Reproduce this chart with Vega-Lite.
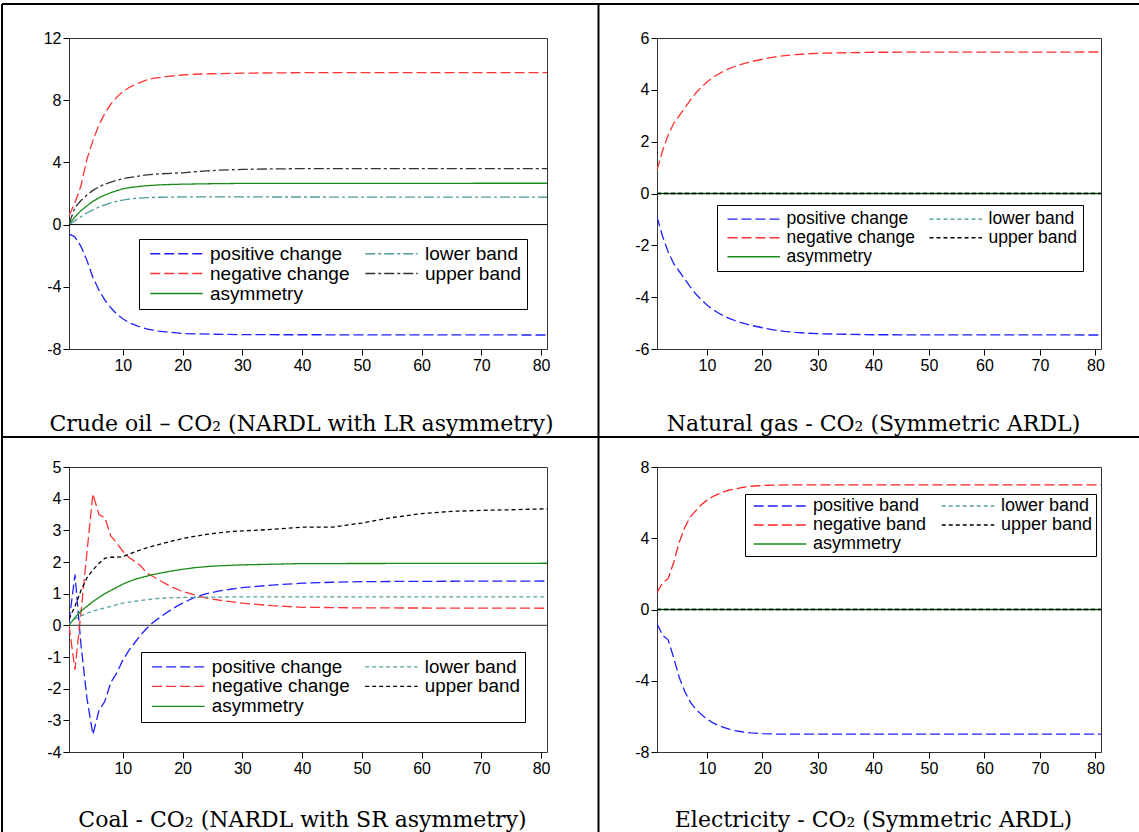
{
  "$schema": "https://vega.github.io/schema/vega-lite/v6.json",
  "background": "white",
  "padding": {"left": 0, "top": 2, "right": 0, "bottom": 0},
  "datasets": {
    "A": [
      {"s": "positive change", "h": 1, "v": -0.6}, {"s": "positive change", "h": 2, "v": -0.8}, {"s": "positive change", "h": 3, "v": -1.4}, {"s": "positive change", "h": 4, "v": -2.3}, {"s": "positive change", "h": 5, "v": -3.4}, {"s": "positive change", "h": 6, "v": -4.2}, {"s": "positive change", "h": 7, "v": -4.85}, {"s": "positive change", "h": 8, "v": -5.35}, {"s": "positive change", "h": 9, "v": -5.75}, {"s": "positive change", "h": 10, "v": -6.05}, {"s": "positive change", "h": 11, "v": -6.3}, {"s": "positive change", "h": 12, "v": -6.45}, {"s": "positive change", "h": 13, "v": -6.6}, {"s": "positive change", "h": 14, "v": -6.7}, {"s": "positive change", "h": 15, "v": -6.78}, {"s": "positive change", "h": 16, "v": -6.85}, {"s": "positive change", "h": 18, "v": -6.93}, {"s": "positive change", "h": 20, "v": -7.0}, {"s": "positive change", "h": 25, "v": -7.05}, {"s": "positive change", "h": 30, "v": -7.08}, {"s": "positive change", "h": 81, "v": -7.1},
      {"s": "negative change", "h": 1, "v": 0.58}, {"s": "negative change", "h": 2, "v": 1.4}, {"s": "negative change", "h": 3, "v": 2.5}, {"s": "negative change", "h": 4, "v": 4.2}, {"s": "negative change", "h": 5, "v": 5.4}, {"s": "negative change", "h": 6, "v": 6.4}, {"s": "negative change", "h": 7, "v": 7.15}, {"s": "negative change", "h": 8, "v": 7.75}, {"s": "negative change", "h": 9, "v": 8.2}, {"s": "negative change", "h": 10, "v": 8.55}, {"s": "negative change", "h": 11, "v": 8.8}, {"s": "negative change", "h": 12, "v": 9.0}, {"s": "negative change", "h": 13, "v": 9.15}, {"s": "negative change", "h": 14, "v": 9.3}, {"s": "negative change", "h": 15, "v": 9.4}, {"s": "negative change", "h": 16, "v": 9.45}, {"s": "negative change", "h": 18, "v": 9.55}, {"s": "negative change", "h": 20, "v": 9.62}, {"s": "negative change", "h": 22, "v": 9.67}, {"s": "negative change", "h": 25, "v": 9.7}, {"s": "negative change", "h": 30, "v": 9.74}, {"s": "negative change", "h": 40, "v": 9.77}, {"s": "negative change", "h": 81, "v": 9.77},
      {"s": "asymmetry", "h": 1, "v": 0}, {"s": "asymmetry", "h": 2, "v": 0.5}, {"s": "asymmetry", "h": 3, "v": 0.9}, {"s": "asymmetry", "h": 4, "v": 1.2}, {"s": "asymmetry", "h": 5, "v": 1.5}, {"s": "asymmetry", "h": 6, "v": 1.72}, {"s": "asymmetry", "h": 7, "v": 1.9}, {"s": "asymmetry", "h": 8, "v": 2.05}, {"s": "asymmetry", "h": 9, "v": 2.18}, {"s": "asymmetry", "h": 10, "v": 2.3}, {"s": "asymmetry", "h": 11, "v": 2.37}, {"s": "asymmetry", "h": 12, "v": 2.42}, {"s": "asymmetry", "h": 14, "v": 2.5}, {"s": "asymmetry", "h": 16, "v": 2.55}, {"s": "asymmetry", "h": 18, "v": 2.58}, {"s": "asymmetry", "h": 20, "v": 2.6}, {"s": "asymmetry", "h": 25, "v": 2.63}, {"s": "asymmetry", "h": 30, "v": 2.65}, {"s": "asymmetry", "h": 81, "v": 2.66},
      {"s": "upper band", "h": 1, "v": 0.05}, {"s": "upper band", "h": 2, "v": 1.1}, {"s": "upper band", "h": 3, "v": 1.55}, {"s": "upper band", "h": 4, "v": 1.9}, {"s": "upper band", "h": 5, "v": 2.2}, {"s": "upper band", "h": 6, "v": 2.42}, {"s": "upper band", "h": 7, "v": 2.6}, {"s": "upper band", "h": 8, "v": 2.73}, {"s": "upper band", "h": 9, "v": 2.85}, {"s": "upper band", "h": 10, "v": 2.95}, {"s": "upper band", "h": 11, "v": 3.02}, {"s": "upper band", "h": 12, "v": 3.08}, {"s": "upper band", "h": 14, "v": 3.2}, {"s": "upper band", "h": 16, "v": 3.26}, {"s": "upper band", "h": 18, "v": 3.3}, {"s": "upper band", "h": 20, "v": 3.33}, {"s": "upper band", "h": 22, "v": 3.4}, {"s": "upper band", "h": 24, "v": 3.45}, {"s": "upper band", "h": 26, "v": 3.5}, {"s": "upper band", "h": 30, "v": 3.55}, {"s": "upper band", "h": 35, "v": 3.58}, {"s": "upper band", "h": 40, "v": 3.6}, {"s": "upper band", "h": 81, "v": 3.6},
      {"s": "lower band", "h": 1, "v": 0}, {"s": "lower band", "h": 2, "v": 0.25}, {"s": "lower band", "h": 3, "v": 0.5}, {"s": "lower band", "h": 4, "v": 0.75}, {"s": "lower band", "h": 5, "v": 0.95}, {"s": "lower band", "h": 6, "v": 1.12}, {"s": "lower band", "h": 7, "v": 1.27}, {"s": "lower band", "h": 8, "v": 1.4}, {"s": "lower band", "h": 9, "v": 1.5}, {"s": "lower band", "h": 10, "v": 1.58}, {"s": "lower band", "h": 11, "v": 1.64}, {"s": "lower band", "h": 12, "v": 1.68}, {"s": "lower band", "h": 14, "v": 1.73}, {"s": "lower band", "h": 16, "v": 1.76}, {"s": "lower band", "h": 20, "v": 1.78}, {"s": "lower band", "h": 25, "v": 1.78}, {"s": "lower band", "h": 81, "v": 1.76}
    ],
    "B": [
      {"s": "negative change", "h": 1, "v": 0.9}, {"s": "negative change", "h": 2, "v": 1.65}, {"s": "negative change", "h": 3, "v": 2.25}, {"s": "negative change", "h": 4, "v": 2.7}, {"s": "negative change", "h": 5, "v": 3.0}, {"s": "negative change", "h": 6, "v": 3.3}, {"s": "negative change", "h": 7, "v": 3.6}, {"s": "negative change", "h": 8, "v": 3.88}, {"s": "negative change", "h": 9, "v": 4.1}, {"s": "negative change", "h": 10, "v": 4.3}, {"s": "negative change", "h": 11, "v": 4.47}, {"s": "negative change", "h": 12, "v": 4.6}, {"s": "negative change", "h": 13, "v": 4.72}, {"s": "negative change", "h": 14, "v": 4.82}, {"s": "negative change", "h": 15, "v": 4.9}, {"s": "negative change", "h": 16, "v": 4.97}, {"s": "negative change", "h": 17, "v": 5.03}, {"s": "negative change", "h": 18, "v": 5.09}, {"s": "negative change", "h": 20, "v": 5.18}, {"s": "negative change", "h": 22, "v": 5.26}, {"s": "negative change", "h": 24, "v": 5.32}, {"s": "negative change", "h": 26, "v": 5.36}, {"s": "negative change", "h": 28, "v": 5.39}, {"s": "negative change", "h": 30, "v": 5.41}, {"s": "negative change", "h": 35, "v": 5.43}, {"s": "negative change", "h": 40, "v": 5.45}, {"s": "negative change", "h": 81, "v": 5.46},
      {"s": "positive change", "h": 1, "v": -0.9}, {"s": "positive change", "h": 2, "v": -1.65}, {"s": "positive change", "h": 3, "v": -2.25}, {"s": "positive change", "h": 4, "v": -2.7}, {"s": "positive change", "h": 5, "v": -3.0}, {"s": "positive change", "h": 6, "v": -3.3}, {"s": "positive change", "h": 7, "v": -3.6}, {"s": "positive change", "h": 8, "v": -3.88}, {"s": "positive change", "h": 9, "v": -4.1}, {"s": "positive change", "h": 10, "v": -4.3}, {"s": "positive change", "h": 11, "v": -4.47}, {"s": "positive change", "h": 12, "v": -4.6}, {"s": "positive change", "h": 13, "v": -4.72}, {"s": "positive change", "h": 14, "v": -4.82}, {"s": "positive change", "h": 15, "v": -4.9}, {"s": "positive change", "h": 16, "v": -4.97}, {"s": "positive change", "h": 17, "v": -5.03}, {"s": "positive change", "h": 18, "v": -5.09}, {"s": "positive change", "h": 20, "v": -5.18}, {"s": "positive change", "h": 22, "v": -5.26}, {"s": "positive change", "h": 24, "v": -5.32}, {"s": "positive change", "h": 26, "v": -5.36}, {"s": "positive change", "h": 28, "v": -5.39}, {"s": "positive change", "h": 30, "v": -5.41}, {"s": "positive change", "h": 35, "v": -5.43}, {"s": "positive change", "h": 40, "v": -5.45}, {"s": "positive change", "h": 81, "v": -5.46},
      {"s": "asymmetry", "h": 1, "v": 0}, {"s": "asymmetry", "h": 81, "v": 0},
      {"s": "lower band", "h": 1, "v": 0}, {"s": "lower band", "h": 81, "v": 0},
      {"s": "upper band", "h": 1, "v": 0}, {"s": "upper band", "h": 81, "v": 0}
    ],
    "C": [
      {"s": "positive change", "h": 1, "v": 0.1}, {"s": "positive change", "h": 2, "v": 1.6}, {"s": "positive change", "h": 3, "v": -0.6}, {"s": "positive change", "h": 4, "v": -2.3}, {"s": "positive change", "h": 5, "v": -3.45}, {"s": "positive change", "h": 6, "v": -2.7}, {"s": "positive change", "h": 7, "v": -2.4}, {"s": "positive change", "h": 8, "v": -1.8}, {"s": "positive change", "h": 9, "v": -1.5}, {"s": "positive change", "h": 10, "v": -1.1}, {"s": "positive change", "h": 11, "v": -0.8}, {"s": "positive change", "h": 12, "v": -0.55}, {"s": "positive change", "h": 13, "v": -0.3}, {"s": "positive change", "h": 14, "v": -0.1}, {"s": "positive change", "h": 15, "v": 0.08}, {"s": "positive change", "h": 16, "v": 0.22}, {"s": "positive change", "h": 17, "v": 0.36}, {"s": "positive change", "h": 18, "v": 0.48}, {"s": "positive change", "h": 19, "v": 0.6}, {"s": "positive change", "h": 20, "v": 0.7}, {"s": "positive change", "h": 22, "v": 0.88}, {"s": "positive change", "h": 24, "v": 1.0}, {"s": "positive change", "h": 26, "v": 1.08}, {"s": "positive change", "h": 28, "v": 1.14}, {"s": "positive change", "h": 30, "v": 1.19}, {"s": "positive change", "h": 35, "v": 1.27}, {"s": "positive change", "h": 40, "v": 1.33}, {"s": "positive change", "h": 45, "v": 1.36}, {"s": "positive change", "h": 50, "v": 1.38}, {"s": "positive change", "h": 60, "v": 1.39}, {"s": "positive change", "h": 81, "v": 1.4},
      {"s": "negative change", "h": 1, "v": 0}, {"s": "negative change", "h": 2, "v": -1.4}, {"s": "negative change", "h": 3, "v": 0.4}, {"s": "negative change", "h": 4, "v": 2.3}, {"s": "negative change", "h": 5, "v": 4.15}, {"s": "negative change", "h": 6, "v": 3.5}, {"s": "negative change", "h": 7, "v": 3.4}, {"s": "negative change", "h": 8, "v": 2.82}, {"s": "negative change", "h": 9, "v": 2.6}, {"s": "negative change", "h": 10, "v": 2.34}, {"s": "negative change", "h": 11, "v": 2.15}, {"s": "negative change", "h": 12, "v": 2.02}, {"s": "negative change", "h": 13, "v": 1.88}, {"s": "negative change", "h": 14, "v": 1.65}, {"s": "negative change", "h": 15, "v": 1.55}, {"s": "negative change", "h": 16, "v": 1.44}, {"s": "negative change", "h": 18, "v": 1.23}, {"s": "negative change", "h": 20, "v": 1.07}, {"s": "negative change", "h": 22, "v": 0.96}, {"s": "negative change", "h": 24, "v": 0.86}, {"s": "negative change", "h": 26, "v": 0.8}, {"s": "negative change", "h": 28, "v": 0.75}, {"s": "negative change", "h": 30, "v": 0.7}, {"s": "negative change", "h": 35, "v": 0.62}, {"s": "negative change", "h": 40, "v": 0.57}, {"s": "negative change", "h": 45, "v": 0.56}, {"s": "negative change", "h": 50, "v": 0.55}, {"s": "negative change", "h": 81, "v": 0.54},
      {"s": "asymmetry", "h": 1, "v": 0}, {"s": "asymmetry", "h": 2, "v": 0.25}, {"s": "asymmetry", "h": 3, "v": 0.45}, {"s": "asymmetry", "h": 4, "v": 0.6}, {"s": "asymmetry", "h": 5, "v": 0.75}, {"s": "asymmetry", "h": 6, "v": 0.88}, {"s": "asymmetry", "h": 7, "v": 1.0}, {"s": "asymmetry", "h": 8, "v": 1.1}, {"s": "asymmetry", "h": 9, "v": 1.2}, {"s": "asymmetry", "h": 10, "v": 1.3}, {"s": "asymmetry", "h": 11, "v": 1.38}, {"s": "asymmetry", "h": 12, "v": 1.45}, {"s": "asymmetry", "h": 13, "v": 1.5}, {"s": "asymmetry", "h": 14, "v": 1.55}, {"s": "asymmetry", "h": 15, "v": 1.6}, {"s": "asymmetry", "h": 16, "v": 1.64}, {"s": "asymmetry", "h": 18, "v": 1.71}, {"s": "asymmetry", "h": 20, "v": 1.77}, {"s": "asymmetry", "h": 22, "v": 1.82}, {"s": "asymmetry", "h": 25, "v": 1.87}, {"s": "asymmetry", "h": 30, "v": 1.91}, {"s": "asymmetry", "h": 35, "v": 1.93}, {"s": "asymmetry", "h": 40, "v": 1.95}, {"s": "asymmetry", "h": 81, "v": 1.96},
      {"s": "upper band", "h": 1, "v": 0.2}, {"s": "upper band", "h": 2, "v": 0.6}, {"s": "upper band", "h": 3, "v": 1.1}, {"s": "upper band", "h": 4, "v": 1.5}, {"s": "upper band", "h": 5, "v": 1.75}, {"s": "upper band", "h": 6, "v": 1.95}, {"s": "upper band", "h": 7, "v": 2.12}, {"s": "upper band", "h": 8, "v": 2.15}, {"s": "upper band", "h": 9, "v": 2.15}, {"s": "upper band", "h": 10, "v": 2.17}, {"s": "upper band", "h": 12, "v": 2.32}, {"s": "upper band", "h": 14, "v": 2.45}, {"s": "upper band", "h": 16, "v": 2.55}, {"s": "upper band", "h": 18, "v": 2.65}, {"s": "upper band", "h": 20, "v": 2.74}, {"s": "upper band", "h": 22, "v": 2.81}, {"s": "upper band", "h": 24, "v": 2.87}, {"s": "upper band", "h": 26, "v": 2.92}, {"s": "upper band", "h": 28, "v": 2.96}, {"s": "upper band", "h": 30, "v": 2.98}, {"s": "upper band", "h": 35, "v": 3.03}, {"s": "upper band", "h": 40, "v": 3.1}, {"s": "upper band", "h": 45, "v": 3.1}, {"s": "upper band", "h": 50, "v": 3.23}, {"s": "upper band", "h": 55, "v": 3.4}, {"s": "upper band", "h": 60, "v": 3.53}, {"s": "upper band", "h": 65, "v": 3.6}, {"s": "upper band", "h": 70, "v": 3.63}, {"s": "upper band", "h": 75, "v": 3.65}, {"s": "upper band", "h": 81, "v": 3.68},
      {"s": "lower band", "h": 1, "v": 0.05}, {"s": "lower band", "h": 2, "v": 0.2}, {"s": "lower band", "h": 3, "v": 0.3}, {"s": "lower band", "h": 4, "v": 0.38}, {"s": "lower band", "h": 5, "v": 0.45}, {"s": "lower band", "h": 6, "v": 0.5}, {"s": "lower band", "h": 8, "v": 0.6}, {"s": "lower band", "h": 10, "v": 0.7}, {"s": "lower band", "h": 12, "v": 0.76}, {"s": "lower band", "h": 14, "v": 0.81}, {"s": "lower band", "h": 16, "v": 0.85}, {"s": "lower band", "h": 18, "v": 0.87}, {"s": "lower band", "h": 20, "v": 0.88}, {"s": "lower band", "h": 25, "v": 0.89}, {"s": "lower band", "h": 30, "v": 0.9}, {"s": "lower band", "h": 81, "v": 0.9}
    ],
    "D": [
      {"s": "negative band", "h": 1, "v": 0.94}, {"s": "negative band", "h": 2, "v": 1.5}, {"s": "negative band", "h": 3, "v": 1.73}, {"s": "negative band", "h": 4, "v": 2.64}, {"s": "negative band", "h": 5, "v": 3.77}, {"s": "negative band", "h": 6, "v": 4.6}, {"s": "negative band", "h": 7, "v": 5.2}, {"s": "negative band", "h": 8, "v": 5.55}, {"s": "negative band", "h": 9, "v": 5.88}, {"s": "negative band", "h": 10, "v": 6.14}, {"s": "negative band", "h": 11, "v": 6.33}, {"s": "negative band", "h": 12, "v": 6.48}, {"s": "negative band", "h": 13, "v": 6.6}, {"s": "negative band", "h": 14, "v": 6.7}, {"s": "negative band", "h": 15, "v": 6.77}, {"s": "negative band", "h": 16, "v": 6.83}, {"s": "negative band", "h": 17, "v": 6.88}, {"s": "negative band", "h": 18, "v": 6.92}, {"s": "negative band", "h": 20, "v": 6.96}, {"s": "negative band", "h": 22, "v": 6.98}, {"s": "negative band", "h": 25, "v": 7.0}, {"s": "negative band", "h": 81, "v": 7.0},
      {"s": "positive band", "h": 1, "v": -0.8}, {"s": "positive band", "h": 2, "v": -1.45}, {"s": "positive band", "h": 3, "v": -1.7}, {"s": "positive band", "h": 4, "v": -2.7}, {"s": "positive band", "h": 5, "v": -3.8}, {"s": "positive band", "h": 6, "v": -4.6}, {"s": "positive band", "h": 7, "v": -5.2}, {"s": "positive band", "h": 8, "v": -5.6}, {"s": "positive band", "h": 9, "v": -5.9}, {"s": "positive band", "h": 10, "v": -6.15}, {"s": "positive band", "h": 11, "v": -6.35}, {"s": "positive band", "h": 12, "v": -6.5}, {"s": "positive band", "h": 13, "v": -6.62}, {"s": "positive band", "h": 14, "v": -6.72}, {"s": "positive band", "h": 15, "v": -6.8}, {"s": "positive band", "h": 16, "v": -6.85}, {"s": "positive band", "h": 17, "v": -6.9}, {"s": "positive band", "h": 18, "v": -6.93}, {"s": "positive band", "h": 20, "v": -6.97}, {"s": "positive band", "h": 22, "v": -6.99}, {"s": "positive band", "h": 25, "v": -7.0}, {"s": "positive band", "h": 81, "v": -7.0},
      {"s": "asymmetry", "h": 1, "v": 0}, {"s": "asymmetry", "h": 81, "v": 0},
      {"s": "lower band", "h": 1, "v": 0}, {"s": "lower band", "h": 81, "v": 0},
      {"s": "upper band", "h": 1, "v": 0}, {"s": "upper band", "h": 81, "v": 0}
    ]
  },
  "columns": 2,
  "spacing": {"row": 118, "column": 110},
  "bounds": "flush",
  "concat": [
    {
      "width": 478, "height": 311,
      "layer": [
        {
          "data": {"name": "A"},
          "mark": {"type": "line", "strokeWidth": 1.3, "clip": true},
          "encoding": {
            "x": {"field": "h", "type": "quantitative", "scale": {"domain": [1, 81], "nice": false, "zero": false}, "axis": {"values": [10, 20, 30, 40, 50, 60, 70, 80], "title": "Crude oil – CO₂ (NARDL with LR asymmetry)", "titlePadding": 40, "titleX": 232}},
            "y": {"field": "v", "type": "quantitative", "scale": {"domain": [-8, 12], "nice": false, "zero": false}, "axis": {"values": [-8, -4, 0, 4, 8, 12], "tickCount": 20, "title": null}},
            "color": {"field": "s", "type": "nominal", "scale": {"domain": ["positive change", "negative change", "asymmetry", "lower band", "upper band"], "range": ["#1f1fff", "#ff3333", "#1a8a1a", "#4f9a9a", "#333333"]},
              "legend": {"orient": "none", "legendX": 70, "legendY": 201, "labelFontSize": 19}},
            "strokeDash": {"field": "s", "type": "nominal", "scale": {"domain": ["positive change", "negative change", "asymmetry", "lower band", "upper band"], "range": [[10, 4], [10, 4], [1, 0], [10, 3, 3, 3], [10, 3, 3, 3]]}}
          }
        },
        {"data": {"values": [{}]}, "mark": {"type": "rule", "color": "black", "strokeWidth": 1}, "encoding": {"y": {"datum": 0}}},
        {"data": {"values": [{}]}, "mark": {"type": "rule", "color": "black", "strokeWidth": 2, "clip": false}, "encoding": {"x": {"datum": -10.213}, "x2": {"datum": 180.08}, "y": {"datum": 14.186}}},
        {"data": {"values": [{}]}, "mark": {"type": "rule", "color": "black", "strokeWidth": 2, "clip": false}, "encoding": {"x": {"datum": -10.213}, "x2": {"datum": 180.08}, "y": {"datum": -13.659}}},
        {"data": {"values": [{}]}, "mark": {"type": "rule", "color": "black", "strokeWidth": 2, "clip": false}, "encoding": {"x": {"datum": -10.213}, "y": {"datum": 14.186}, "y2": {"datum": -39.061}}},
        {"data": {"values": [{}]}, "mark": {"type": "rule", "color": "black", "strokeWidth": 2, "clip": false}, "encoding": {"x": {"datum": 89.619}, "y": {"datum": 14.186}, "y2": {"datum": -39.061}}}
      ]
    },
    {
      "width": 444, "height": 311,
      "layer": [
        {
          "data": {"name": "B"},
          "mark": {"type": "line", "strokeWidth": 1.3, "clip": true},
          "encoding": {
            "x": {"field": "h", "type": "quantitative", "scale": {"domain": [1, 81], "nice": false, "zero": false}, "axis": {"values": [10, 20, 30, 40, 50, 60, 70, 80], "title": "Natural gas - CO₂ (Symmetric ARDL)", "titlePadding": 40, "titleX": 216}},
            "y": {"field": "v", "type": "quantitative", "scale": {"domain": [-6, 6], "nice": false, "zero": false}, "axis": {"values": [-6, -4, -2, 0, 2, 4, 6], "tickCount": 20, "title": null}},
            "color": {"field": "s", "type": "nominal", "scale": {"domain": ["positive change", "negative change", "asymmetry", "lower band", "upper band"], "range": ["#1f1fff", "#ff3333", "#1a8a1a", "#3a9090", "#000000"]},
              "legend": {"orient": "none", "legendX": 60, "legendY": 167, "labelFontSize": 17.5}},
            "strokeDash": {"field": "s", "type": "nominal", "scale": {"domain": ["positive change", "negative change", "asymmetry", "lower band", "upper band"], "range": [[10, 4], [10, 4], [1, 0], [4, 3], [4, 3]]}}
          }
        },
        {"data": {"values": [{}]}, "mark": {"type": "rule", "color": "black", "strokeWidth": 1, "opacity": 0.6}, "encoding": {"y": {"datum": 0}}}
      ]
    },
    {
      "width": 478, "height": 285,
      "layer": [
        {
          "data": {"name": "C"},
          "mark": {"type": "line", "strokeWidth": 1.3, "clip": true},
          "encoding": {
            "x": {"field": "h", "type": "quantitative", "scale": {"domain": [1, 81], "nice": false, "zero": false}, "axis": {"values": [10, 20, 30, 40, 50, 60, 70, 80], "title": "Coal - CO₂ (NARDL with SR asymmetry)", "titlePadding": 33, "titleX": 233}},
            "y": {"field": "v", "type": "quantitative", "scale": {"domain": [-4, 5], "nice": false, "zero": false}, "axis": {"values": [-4, -3, -2, -1, 0, 1, 2, 3, 4, 5], "tickCount": 20, "title": null}},
            "color": {"field": "s", "type": "nominal", "scale": {"domain": ["positive change", "negative change", "asymmetry", "lower band", "upper band"], "range": ["#1f1fff", "#ff3333", "#1a8a1a", "#5a9f9f", "#000000"]},
              "legend": {"orient": "none", "legendX": 72, "legendY": 185, "labelFontSize": 18.8}},
            "strokeDash": {"field": "s", "type": "nominal", "scale": {"domain": ["positive change", "negative change", "asymmetry", "lower band", "upper band"], "range": [[10, 4], [10, 4], [1, 0], [4, 3], [4, 3]]}}
          }
        },
        {"data": {"values": [{}]}, "mark": {"type": "rule", "color": "#555555", "strokeWidth": 1.2}, "encoding": {"y": {"datum": 0}}}
      ]
    },
    {
      "width": 444, "height": 285,
      "layer": [
        {
          "data": {"name": "D"},
          "mark": {"type": "line", "strokeWidth": 1.3, "clip": true},
          "encoding": {
            "x": {"field": "h", "type": "quantitative", "scale": {"domain": [1, 81], "nice": false, "zero": false}, "axis": {"values": [10, 20, 30, 40, 50, 60, 70, 80], "title": "Electricity - CO₂ (Symmetric ARDL)", "titlePadding": 33, "titleX": 216}},
            "y": {"field": "v", "type": "quantitative", "scale": {"domain": [-8, 8], "nice": false, "zero": false}, "axis": {"values": [-8, -4, 0, 4, 8], "tickCount": 20, "title": null}},
            "color": {"field": "s", "type": "nominal", "scale": {"domain": ["positive band", "negative band", "asymmetry", "lower band", "upper band"], "range": ["#1f1fff", "#ff2222", "#1a8a1a", "#5a9f9f", "#000000"]},
              "legend": {"orient": "none", "legendX": 88, "legendY": 27, "labelFontSize": 18, "padding": 3, "rowPadding": 1}},
            "strokeDash": {"field": "s", "type": "nominal", "scale": {"domain": ["positive band", "negative band", "asymmetry", "lower band", "upper band"], "range": [[10, 4], [10, 4], [1, 0], [4, 3], [4, 3]]}}
          }
        },
        {"data": {"values": [{}]}, "mark": {"type": "rule", "color": "black", "strokeWidth": 1, "opacity": 0.6}, "encoding": {"y": {"datum": 0}}}
      ]
    }
  ],
  "resolve": {"scale": {"x": "independent", "y": "independent", "color": "independent", "strokeDash": "independent"}},
  "config": {
    "view": {"stroke": "#333333", "strokeWidth": 1},
    "axis": {"labelFont": "Liberation Sans", "labelFontSize": 16, "labelColor": "black", "labelPadding": 2, "labelOverlap": false, "labelExpr": "'' + datum.value", "tickColor": "black", "tickSize": 6, "domain": false, "grid": false, "titleFont": "DejaVu Serif", "titleFontSize": 22, "titleFontWeight": "normal", "titleColor": "black"},
    "legend": {"title": null, "columns": 2, "strokeColor": "black", "fillColor": "white", "padding": 5, "symbolType": "M-3.5,0H3.5", "symbolSize": 225, "symbolStrokeWidth": 1.3, "labelFont": "Liberation Sans", "labelColor": "black", "labelOffset": 24, "columnPadding": 9, "rowPadding": 0, "symbolOffset": 23}
  }
}
